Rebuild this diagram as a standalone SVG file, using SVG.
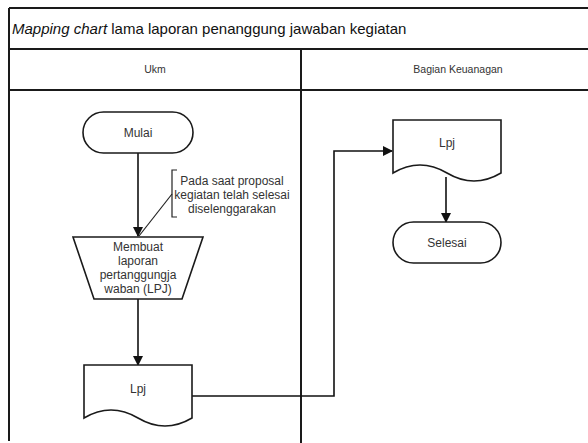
<svg xmlns="http://www.w3.org/2000/svg" width="588" height="443" viewBox="0 0 588 443">
  <style>
    .frame { fill: none; stroke: #1a1a1a; stroke-width: 2; }
    .shape { fill: #ffffff; stroke: #1a1a1a; stroke-width: 1.6; }
    .wire { fill: none; stroke: #111111; stroke-width: 1.6; }
    .thin { fill: none; stroke: #222222; stroke-width: 1.2; }
    text { font-family: "Liberation Sans", Arial, sans-serif; fill: #333333; }
    .title { font-size: 15px; fill: #111111; }
    .lane { font-size: 10.5px; text-anchor: middle; }
    .lbl { font-size: 12px; text-anchor: middle; }
  </style>
  <defs>
    <marker id="arrow" markerWidth="10" markerHeight="10" refX="9" refY="5" orient="auto" markerUnits="userSpaceOnUse">
      <path d="M0,0 L10,5 L0,10 Z" fill="#111111"/>
    </marker>
  </defs>

  <rect width="588" height="443" fill="#ffffff"/>

  <!-- swimlane frame -->
  <g id="frame">
    <path class="frame" d="M9,8 H588 M9,8 V441 M9,49 H588 M9,90 H588 M301,49 V443"/>
    <text class="title" x="12" y="34"><tspan font-style="italic">Mapping chart</tspan> lama laporan penanggung jawaban kegiatan</text>
    <text class="lane" x="155" y="73">Ukm</text>
    <text class="lane" x="458" y="73">Bagian Keuanagan</text>
  </g>

  <!-- connectors -->
  <g id="connectors">
    <path class="wire" d="M138,153 V236" marker-end="url(#arrow)"/>
    <path class="wire" d="M138,299 V365" marker-end="url(#arrow)"/>
    <path class="wire" d="M192,396 H334 V151 H392" marker-end="url(#arrow)"/>
    <path class="wire" d="M446,177 V222" marker-end="url(#arrow)"/>
  </g>

  <g id="mulai">
    <rect class="shape" x="83" y="112" width="110" height="41" rx="20.5" ry="20.5"/>
    <text class="lbl" x="138" y="137">Mulai</text>
  </g>

  <g id="catatan">
    <path class="thin" d="M177,170 H172 V217 H177"/>
    <path class="thin" d="M172,194 L139,236"/>
    <text class="lbl" x="232" y="185">Pada saat proposal</text>
    <text class="lbl" x="232" y="199">kegiatan telah selesai</text>
    <text class="lbl" x="232" y="213">diselenggarakan</text>
  </g>

  <g id="membuat-lpj">
    <path class="shape" d="M73,237 H203 L182,299 H94 Z"/>
    <text class="lbl" x="138" y="251">Membuat</text>
    <text class="lbl" x="138" y="265">laporan</text>
    <text class="lbl" x="138" y="279">pertanggungja</text>
    <text class="lbl" x="138" y="293">waban (LPJ)</text>
  </g>

  <g id="lpj-ukm">
    <path class="shape" d="M84,365 H192 V418 Q165,402 138,418 T84,418 Z" transform="matrix(-1 0 0 1 276 0)"/>
    <text class="lbl" x="138" y="393">Lpj</text>
  </g>

  <g id="lpj-keuangan">
    <path class="shape" d="M393,120 H501 V173 Q474,157 447,173 T393,173 Z" transform="matrix(-1 0 0 1 894 0)"/>
    <text class="lbl" x="447" y="147">Lpj</text>
  </g>

  <g id="selesai">
    <rect class="shape" x="393" y="222" width="108" height="41" rx="20.5" ry="20.5"/>
    <text class="lbl" x="447" y="247">Selesai</text>
  </g>
</svg>
